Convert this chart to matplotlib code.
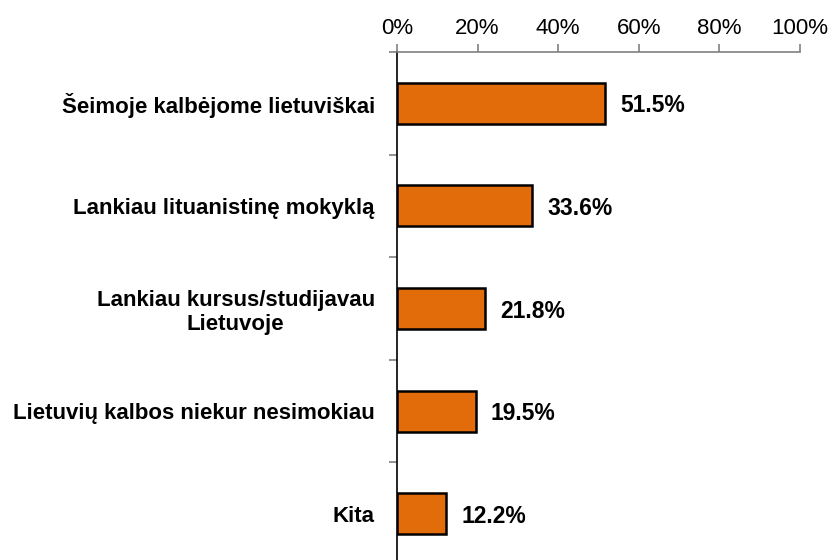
import matplotlib.pyplot as plt
import numpy as np

categories = ['Šeimoje kalbėjome lietuviškai', 'Lankiau lituanistinę mokyklą',
              'Lankiau kursus/studijavau\nLietuvoje', 'Lietuvių kalbos niekur nesimokiau', 'Kita']
values = [51.5, 33.6, 21.8, 19.5, 12.2]
xticks = [0, 20, 40, 60, 80, 100]

plt.rcParams['font.family'] = ['Liberation Sans', 'DejaVu Sans']

fig = plt.figure(figsize=(8.33, 5.6), dpi=100)
ax = fig.add_axes([397 / 833, -5 / 560, 403 / 833, 513 / 560])

y = np.arange(len(categories))
ax.barh(y, values, height=0.4, color='#E36C0A', edgecolor='black', linewidth=1.8)

for yi, v in zip(y, values):
    ax.text(v + 3.8, yi, f'{v:.1f}%', va='center_baseline', ha='left', fontsize=16.5, fontweight='bold')

ax.set_xlim(0, 100)
ax.set_ylim(len(categories) - 0.5, -0.5)
ax.xaxis.tick_top()
ax.set_xticks(xticks)
ax.set_xticklabels([f'{t}%' for t in xticks], fontsize=16)
ax.tick_params(axis='x', colors='#808080', labelcolor='black', length=6, width=1.2, pad=3)

ax.set_yticks(y)
ax.set_yticklabels(categories, fontsize=16, fontweight='bold', ha='right', multialignment='center',
                   va='center_baseline')
ax.tick_params(axis='y', length=0, pad=16)
ax.set_yticks(np.arange(len(categories) + 1) - 0.5, minor=True)
ax.tick_params(axis='y', which='minor', length=6, width=1.2, color='#808080')

for s in ['right', 'bottom']:
    ax.spines[s].set_visible(False)
ax.spines['top'].set_color('#808080')
ax.spines['top'].set_linewidth(1.2)
ax.spines['left'].set_color('black')
ax.spines['left'].set_linewidth(1.2)

fig.savefig('out.png', dpi=100)
